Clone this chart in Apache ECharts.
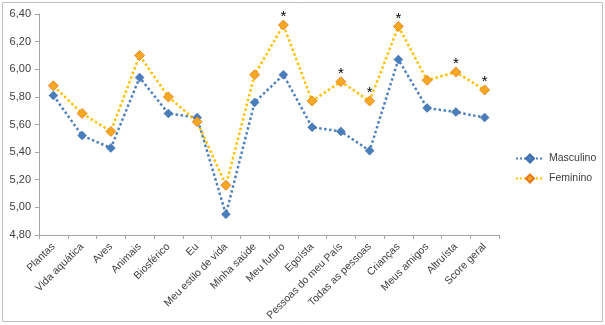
<!DOCTYPE html>
<html><head><meta charset="utf-8">
<script src="https://cdn.jsdelivr.net/npm/echarts@6/dist/echarts.min.js"></script>
<style>html,body{margin:0;padding:0;background:#fff}#c{width:605px;height:325px}</style>
</head><body><div id="c"></div>
<script>
const categories = ["Plantas","Vida aquática","Aves","Animais","Biosférico","Eu","Meu estilo de vida","Minha saúde","Meu futuro","Egoísta","Pessoas do meu País","Todas as pessoas","Crianças","Meus amigos","Altruísta","Score geral"];
const masculino = [5.81,5.52,5.43,5.94,5.68,5.65,4.95,5.76,5.96,5.58,5.55,5.41,6.07,5.72,5.69,5.65];
const feminino  = [5.88,5.68,5.55,6.10,5.80,5.62,5.16,5.96,6.32,5.77,5.91,5.77,6.31,5.92,5.98,5.85];
const significant = ["Meu futuro","Pessoas do meu País","Todas as pessoas","Crianças","Altruísta","Score geral"];
const yTicks = [4.8,5.0,5.2,5.4,5.6,5.8,6.0,6.2,6.4];

const chart = echarts.init(document.getElementById('c'));
const font = 'Liberation Sans';
chart.setOption({
  animation:false,
  textStyle:{fontFamily:font},
  graphic:[{type:'rect',shape:{x:2.5,y:2.5,width:600,height:319},style:{fill:'none',stroke:'#bfbfbf',lineWidth:1}}],
  grid:{left:39,right:106,top:14,bottom:90},
  legend:{orient:'vertical',left:510,top:148,itemWidth:28,itemHeight:10,itemGap:9,
    textStyle:{fontSize:10.5,color:'#404040',fontFamily:font},
    data:['Masculino','Feminino']},
  xAxis:{type:'category',data:categories,boundaryGap:true,
    axisLine:{lineStyle:{color:'#a6a6a6'}},
    axisTick:{show:true,alignWithLabel:false,length:4,lineStyle:{color:'#a6a6a6'}},
    axisLabel:{rotate:45,interval:0,fontSize:10.5,color:'#404040',margin:10,fontFamily:font}},
  yAxis:{type:'value',min:yTicks[0],max:yTicks[yTicks.length-1],interval:0.2,
    axisLine:{show:true,lineStyle:{color:'#a6a6a6'}},
    axisTick:{show:true,length:4,lineStyle:{color:'#a6a6a6'}},
    splitLine:{show:false},
    axisLabel:{fontSize:11,color:'#404040',margin:8,fontFamily:font,
      formatter:v=>v.toFixed(2).replace('.',',')}},
  series:[
    {name:'Masculino',type:'line',data:masculino,symbol:'diamond',symbolSize:9,
      lineStyle:{type:'dotted',width:2.5,color:'#4f81bd'},
      itemStyle:{color:'#4a7ebb',borderColor:'#3f6fae',borderWidth:0.5},z:2},
    {name:'Feminino',type:'line',symbol:'diamond',symbolSize:10,
      data:feminino.map((v,i)=>({value:v,label:{show:significant.includes(categories[i])}})),
      label:{show:false,position:'top',distance:-5,formatter:'*',fontSize:15,color:'#000',fontFamily:font},
      lineStyle:{type:'dotted',width:2.5,color:'#ffc000'},
      itemStyle:{color:'#f7a823',borderColor:'#e3781b',borderWidth:0.8},z:3}
  ]
});
</script></body></html>
